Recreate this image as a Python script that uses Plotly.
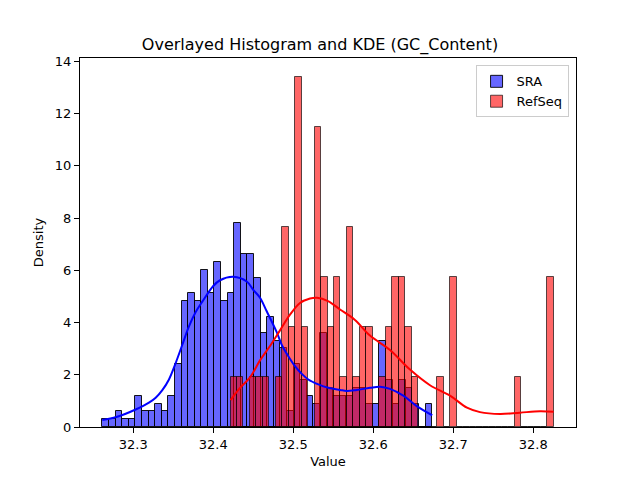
import numpy as np
import plotly.graph_objects as go

# ---------------- data ----------------
n_bins = 50
sra_min, sra_max = 32.2613, 32.6737
ref_min, ref_max = 32.4216, 32.8255

# histogram densities per bin (SRA)
sra_density = [0.30, 0.30, 0.60, 0.30, 0.30, 1.20, 0.60, 0.60, 0.90, 0.60,
               1.20, 2.41, 4.82, 5.12, 4.82, 6.02, 5.12, 6.32, 4.82, 5.12,
               7.83, 6.62, 6.62, 5.72, 3.61, 4.21, 3.31, 3.01, 0.60, 2.41,
               1.81, 1.20, 0.90, 3.61, 1.51, 1.20, 1.20, 1.20, 1.51, 1.51,
               0.90, 0.90, 3.31, 1.81, 0.90, 1.81, 1.51, 0.90, 0.00, 0.90]

# histogram densities per bin (RefSeq)
ref_density = [1.92, 1.92, 0.00, 1.92, 1.92, 1.92, 0.00, 1.92, 7.66, 3.83,
               13.41, 3.83, 0.00, 11.49, 5.75, 3.83, 5.75, 1.92, 7.66, 1.92,
               3.83, 3.83, 0.00, 1.92, 3.83, 5.75, 5.75, 3.83, 1.92, 0.00,
               0.00, 0.00, 1.92, 0.00, 5.75, 0.00, 0.00, 0.00, 0.00, 0.00,
               0.00, 0.00, 0.00, 0.00, 1.92, 0.00, 0.00, 0.00, 0.00, 5.75]

# KDE curves
sra_kde_x = [32.2613, 32.2788, 32.3030, 32.3196, 32.3280, 32.3363, 32.3446, 32.3530,
             32.3613, 32.3696, 32.3780, 32.3863, 32.4000, 32.4084, 32.4250, 32.4418,
             32.4500, 32.4584, 32.4668, 32.4793, 32.4855, 32.4938, 32.5021, 32.5105,
             32.5188, 32.5313, 32.5438, 32.5584, 32.5668, 32.5793, 32.5959, 32.6084,
             32.6209, 32.6375, 32.6543, 32.6737]
sra_kde_y = [0.27, 0.38, 0.67, 0.93, 1.12, 1.41, 1.82, 2.45,
             3.15, 3.85, 4.40, 4.80, 5.40, 5.62, 5.75, 5.57,
             5.25, 4.95, 4.43, 3.63, 3.15, 2.71, 2.33, 2.04,
             1.82, 1.63, 1.50, 1.42, 1.38, 1.42, 1.50, 1.54,
             1.46, 1.20, 0.80, 0.45]

ref_kde_x = [32.4216, 32.4334, 32.4459, 32.4584, 32.4709, 32.4834, 32.4959, 32.5084,
             32.5209, 32.5296, 32.5434, 32.5584, 32.5771, 32.5959, 32.6209, 32.6459,
             32.6709, 32.6959, 32.7171, 32.7334, 32.7584, 32.7834, 32.8084, 32.8255]
ref_kde_y = [1.03, 1.50, 1.90, 2.55, 3.10, 3.70, 4.30, 4.75,
             4.92, 4.95, 4.82, 4.50, 4.10, 3.50, 2.95, 2.20,
             1.60, 1.20, 0.74, 0.57, 0.50, 0.55, 0.60, 0.58]

x_ticks = [32.3, 32.4, 32.5, 32.6, 32.7, 32.8]
y_ticks = [0, 2, 4, 6, 8, 10, 12, 14]

# ---------------- figure ----------------
sra_edges = np.linspace(sra_min, sra_max, n_bins + 1)
ref_edges = np.linspace(ref_min, ref_max, n_bins + 1)
sra_w = sra_edges[1] - sra_edges[0]
ref_w = ref_edges[1] - ref_edges[0]
sra_centers = (sra_edges[:-1] + sra_edges[1:]) / 2
ref_centers = (ref_edges[:-1] + ref_edges[1:]) / 2

fig = go.Figure()
fig.add_trace(go.Bar(
    x=sra_centers, y=sra_density, width=sra_w, name="SRA",
    marker=dict(color="rgba(0,0,255,0.6)", line=dict(color="rgba(0,0,0,0.9)", width=1)),
))
fig.add_trace(go.Bar(
    x=ref_centers, y=ref_density, width=ref_w, name="RefSeq",
    marker=dict(color="rgba(255,0,0,0.6)", line=dict(color="rgba(0,0,0,0.65)", width=1)),
))
fig.add_trace(go.Scatter(
    x=sra_kde_x, y=sra_kde_y, mode="lines", line=dict(color="blue", width=2, shape="spline"),
    showlegend=False, hoverinfo="skip",
))
fig.add_trace(go.Scatter(
    x=ref_kde_x, y=ref_kde_y, mode="lines", line=dict(color="red", width=2, shape="spline"),
    showlegend=False, hoverinfo="skip",
))

font_family = "DejaVu Sans"
fig.update_layout(
    width=640, height=480,
    margin=dict(l=80, r=64, t=58, b=53),
    paper_bgcolor="white", plot_bgcolor="white",
    barmode="overlay", bargap=0,
    font=dict(family=font_family, size=13, color="black"),
    title=dict(text="Overlayed Histogram and KDE (GC_Content)", x=0.5, xanchor="center",
               y=1 - 44 / 480, yanchor="middle", font=dict(size=16, family=font_family)),
    legend=dict(x=0.985, y=0.98, xanchor="right", yanchor="top",
                bgcolor="rgba(255,255,255,0.8)", bordercolor="#cccccc", borderwidth=1,
                font=dict(size=13), itemwidth=30, tracegroupgap=2),
    showlegend=True,
)
fig.update_xaxes(
    range=[32.2334, 32.8534], tickvals=x_ticks, ticktext=[f"{t:.1f}" for t in x_ticks],
    showline=True, mirror=True, linecolor="black", linewidth=1,
    ticks="outside", ticklen=5, tickcolor="black", showgrid=False, zeroline=False,
    title=dict(text="Value", standoff=6, font=dict(size=13)),
)
fig.update_yaxes(
    range=[0, 14.13], tickvals=y_ticks,
    showline=True, mirror=True, linecolor="black", linewidth=1,
    ticks="outside", ticklen=5, tickcolor="black", showgrid=False, zeroline=False,
    title=dict(text="Density", standoff=8, font=dict(size=13)),
)

fig.write_html("out.html")
